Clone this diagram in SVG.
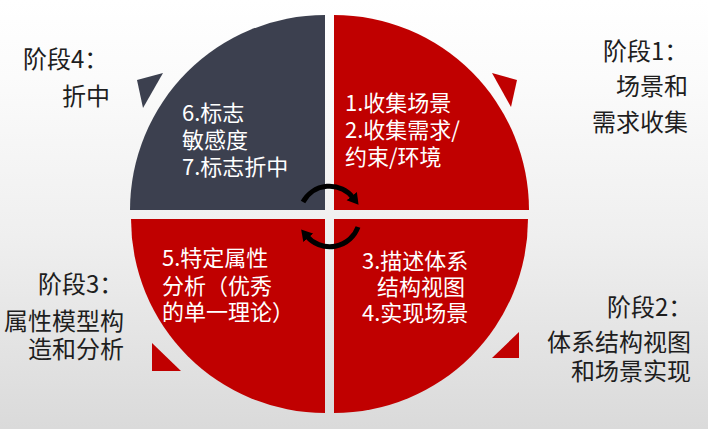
<svg xmlns="http://www.w3.org/2000/svg" width="708" height="429" viewBox="0 0 708 429">
<defs>
<linearGradient id="bg" x1="0" y1="0" x2="0" y2="1">
<stop offset="0" stop-color="#ffffff"/>
<stop offset="0.18" stop-color="#fbfbfb"/>
<stop offset="0.55" stop-color="#efefef"/>
<stop offset="1" stop-color="#dadada"/>
</linearGradient>
<marker id="ah" viewBox="0 -7 12 14" refX="2" refY="0" markerWidth="12" markerHeight="14" markerUnits="userSpaceOnUse" orient="auto">
<path d="M0,-6.5 L11,0 L0,6.5 Z" fill="#000"/>
</marker>
<style>
.red{fill:#c00000}
.dark{fill:#3c404f}
.qt{font-family:"Noto Sans CJK SC","Noto Sans",sans-serif;font-size:22px;fill:#ffffff}
.ot{font-family:"Noto Sans CJK SC","Noto Sans",sans-serif;font-size:24px;fill:#1e1e1e}
.arc{fill:none;stroke:#000;stroke-width:5;marker-end:url(#ah)}
</style>
</defs>
<rect x="0" y="0" width="708" height="429" fill="url(#bg)"/>

<g id="q-stage4">
<path class="dark" d="M325,210 H130 A195 195 0 0 1 325,15 Z"/>
<polygon class="dark" points="137,80 163,73 143,108"/>
<text class="qt" x="182" y="121">6.标志</text>
<text class="qt" x="182" y="148">敏感度</text>
<text class="qt" x="182" y="175">7.标志折中</text>
</g>

<g id="q-stage1">
<path class="red" d="M334,210 V15 A195 195 0 0 1 529,210 Z"/>
<polygon class="red" points="492,73 517,80 511,107"/>
<text class="qt" x="345" y="111">1.收集场景</text>
<text class="qt" x="345" y="138">2.收集需求/</text>
<text class="qt" x="345" y="165">约束/环境</text>
</g>

<g id="q-stage3">
<path class="red" d="M325,219 V413 A194 194 0 0 1 131,219 Z"/>
<polygon class="red" points="152,343 152,371 181,371"/>
<text class="qt" x="162" y="266">5.特定属性</text>
<text class="qt" x="162" y="294">分析（优秀</text>
<text class="qt" x="162" y="320">的单一理论）</text>
</g>

<g id="q-stage2">
<path class="red" d="M334,219 H528 A194 194 0 0 1 334,413 Z"/>
<polygon class="red" points="519,332 519,358 492,358"/>
<text class="qt" x="362" y="269">3.描述体系</text>
<text class="qt" x="377" y="295">结构视图</text>
<text class="qt" x="362" y="321">4.实现场景</text>
</g>

<g id="label-stage4">
<text class="ot" x="23" y="68">阶段4：</text>
<text class="ot" x="62" y="105">折中</text>
</g>
<g id="label-stage1">
<text class="ot" x="603" y="60">阶段1：</text>
<text class="ot" x="616" y="95">场景和</text>
<text class="ot" x="592" y="131">需求收集</text>
</g>
<g id="label-stage3">
<text class="ot" x="38" y="293">阶段3：</text>
<text class="ot" x="4" y="330">属性模型构</text>
<text class="ot" x="28" y="358">造和分析</text>
</g>
<g id="label-stage2">
<text class="ot" x="607" y="316">阶段2：</text>
<text class="ot" x="547" y="351">体系结构视图</text>
<text class="ot" x="571" y="380">和场景实现</text>
</g>

<g id="connectors">
<path class="arc" d="M303,202 A30 30 0 0 1 353,197.7"/>
<path class="arc" d="M358,227 A30 30 0 0 1 307,236.3"/>
</g>
</svg>
